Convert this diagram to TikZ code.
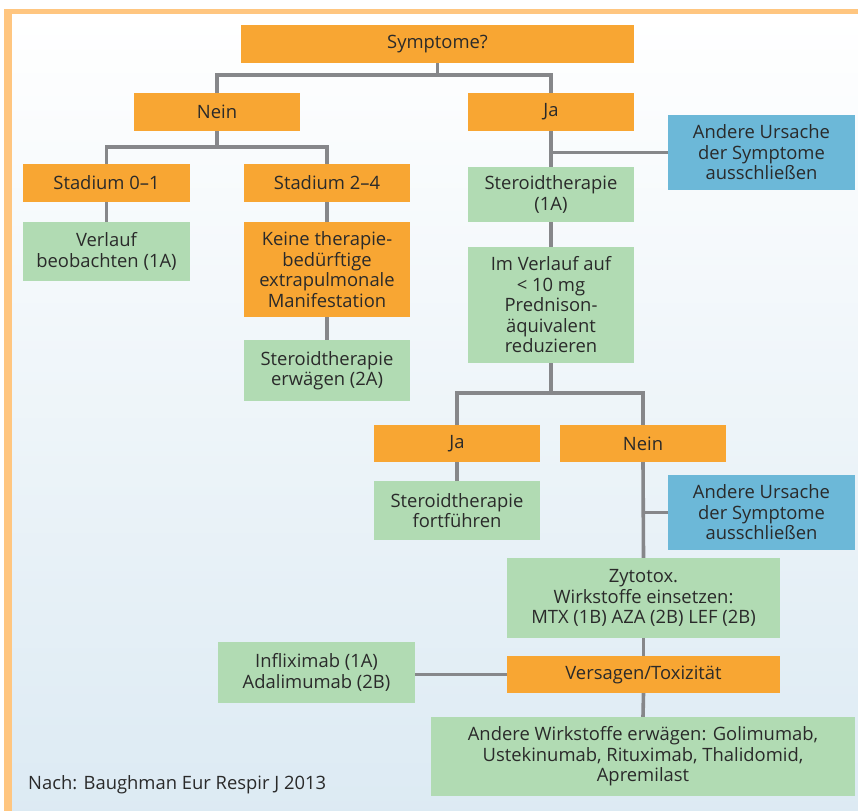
\documentclass[tikz,border=0pt]{standalone}
\usepackage{fontspec}
\setmainfont{Open Sans}
\usepackage{tikz}
\definecolor{boxorange}{HTML}{F8A633}
\definecolor{boxgreen}{HTML}{B1DBB3}
\definecolor{boxblue}{HTML}{6CB8D8}
\definecolor{linegray}{HTML}{86878A}
\definecolor{frameorange}{HTML}{FFC680}
\definecolor{bgblue}{HTML}{DCEAF3}
\definecolor{txt}{HTML}{2A2A2A}

\begin{document}
\begin{tikzpicture}[x=1pt,y=-1pt,
  box/.style={rectangle, inner sep=0pt, align=center, text=txt,
    font=\fontsize{18.4}{20.5}\selectfont},
  ora/.style={box, fill=boxorange},
  gre/.style={box, fill=boxgreen},
  blu/.style={box, fill=boxblue},
  conn/.style={draw=linegray, line width=3.6pt}]
\useasboundingbox (0,0) rectangle (858,810);
\fill[white] (0,0) rectangle (858,810);
\fill[frameorange] (4,9) rectangle (870,820);
\shade[top color=white, bottom color=bgblue] (12,15) rectangle (870,820);

\node[ora, minimum width=393, minimum height=38] (symp) at (437.5,44) {Symptome?};
\node[ora, minimum width=166, minimum height=38] (nein1) at (217,112) {Nein};
\node[ora, minimum width=166, minimum height=38] (ja1) at (551,112) {Ja};
\node[ora, minimum width=167, minimum height=38] (st01) at (106.5,183) {Stadium 0–1};
\node[ora, minimum width=166, minimum height=38] (st24) at (327,183) {Stadium 2–4};
\node[gre, minimum width=167, minimum height=59] (verlauf) at (106.5,251.5) {Verlauf\\beobachten (1A)};
\node[ora, minimum width=166, minimum height=95] (keine) at (327,269.5) {Keine therapie-\\bedürftige\\extrapulmonale\\Manifestation};
\node[gre, minimum width=166, minimum height=61] (erwaegen) at (327,370.5) {Steroidtherapie\\erwägen (2A)};
\node[gre, minimum width=166, minimum height=55] (ster1) at (551,194.5) {Steroidtherapie\\(1A)};
\node[blu, minimum width=187, minimum height=75] (andere1) at (761.5,152.5) {Andere Ursache\\der Symptome\\ausschließen};
\node[gre, minimum width=166, minimum height=116] (imverlauf) at (551,305) {Im Verlauf auf\\< 10 mg\\Prednison-\\äquivalent\\reduzieren};
\node[ora, minimum width=166, minimum height=37] (ja2) at (457,443.5) {Ja};
\node[ora, minimum width=166, minimum height=37] (nein2) at (643,443.5) {Nein};
\node[gre, minimum width=166, minimum height=59] (fortf) at (457,510.5) {Steroidtherapie\\fortführen};
\node[blu, minimum width=187, minimum height=75] (andere2) at (761.5,512.5) {Andere Ursache\\der Symptome\\ausschließen};
\node[gre, minimum width=273, minimum height=80] (zyto) at (643.5,598) {Zytotox.\\Wirkstoffe einsetzen:\\MTX (1B) AZA (2B) LEF (2B)};
\node[ora, minimum width=273, minimum height=37] (versagen) at (643.5,674.5) {Versagen/Toxizität};
\node[gre, minimum width=197, minimum height=61] (inflix) at (316.5,672.5) {Infliximab (1A)\\Adalimumab (2B)};
\node[gre, minimum width=424, minimum height=79] (anderew) at (643,756.5) {Andere Wirkstoffe erwägen: Golimumab,\\Ustekinumab, Rituximab, Thalidomid,\\Apremilast};
\node[box, anchor=west] (quelle) at (28,785) {Nach: Baughman Eur Respir J 2013};

\coordinate (j1) at (437.5,75);
\coordinate (j2) at (217,147);
\coordinate (j3) at (551,393);

\path[conn] (symp.south) -- (j1);
\path[conn] (nein1.north) |- (j1) -| (ja1.north);
\path[conn] (nein1.south) -- (j2);
\path[conn] (st01.north) |- (j2) -| (st24.north);
\path[conn] (st01.south) -- (verlauf.north);
\path[conn] (st24.south) -- (keine.north);
\path[conn] (keine.south) -- (erwaegen.north);
\path[conn] (ja1.south) -- (ster1.north);
\path[conn] (andere1.west) -- (andere1.west -| ja1.south);
\path[conn] (ster1.south) -- (imverlauf.north);
\path[conn] (imverlauf.south) -- (j3);
\path[conn] (ja2.north) |- (j3) -| (nein2.north);
\path[conn] (ja2.south) -- (fortf.north);
\path[conn] (nein2.south) -- (zyto.north);
\path[conn] (andere2.west) -- (andere2.west -| nein2.south);
\path[conn] (zyto.south) -- (versagen.north);
\path[conn] (versagen.west) -- (versagen.west -| inflix.east);
\path[conn] (versagen.south) -- (anderew.north);
\end{tikzpicture}
\end{document}
